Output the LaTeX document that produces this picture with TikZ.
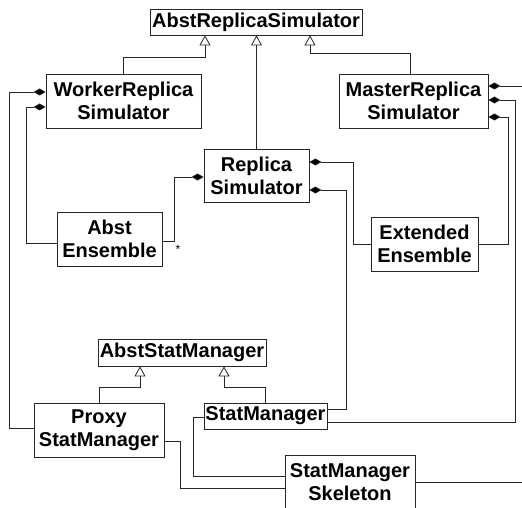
\documentclass[tikz,border=0pt]{standalone}
\usepackage{fontspec}
\setmainfont{Liberation Sans}
\usetikzlibrary{arrows.meta,calc}
\begin{document}
\begin{tikzpicture}[x=1pt,y=-1pt,
  cls/.style={draw=black!85, line width=0.8pt, fill=white, inner sep=0pt, align=center,
     font=\bfseries\fontsize{20}{23}\selectfont},
  inh/.style={draw=black!85, line width=0.8pt, -{Triangle[open, length=10pt, width=11pt, fill=white]}},
  comp/.style={draw=black!85, line width=0.8pt, {Diamond[length=12pt, width=7pt, fill=black]}-}]
\useasboundingbox (0,0) rectangle (522,508);
\clip (0,0) rectangle (522,508);

\node[cls, minimum width=212pt, minimum height=26pt] (ars) at (256,22) {AbstReplicaSimulator};
\node[cls, minimum width=155pt, minimum height=54pt] (wrs) at (123.5,101) {WorkerReplica\\Simulator};
\node[cls, minimum width=149pt, minimum height=54pt] (mrs) at (413.5,101) {MasterReplica\\Simulator};
\node[cls, minimum width=105pt, minimum height=53pt] (rs) at (256.5,175.5) {Replica\\Simulator};
\node[cls, minimum width=105pt, minimum height=54pt] (ae) at (109.5,239) {Abst\\Ensemble};
\node[cls, minimum width=107pt, minimum height=54pt] (ee) at (424.5,244) {Extended\\Ensemble};
\node[cls, minimum width=168pt, minimum height=27pt] (asm) at (182,352.5) {AbstStatManager};
\node[cls, minimum width=130pt, minimum height=54pt] (psm) at (99,430) {Proxy\\StatManager};
\node[cls, minimum width=123pt, minimum height=26pt] (sm) at (265.5,416) {StatManager};
\node[cls, minimum width=130pt, minimum height=54pt] (sms) at (350,482) {StatManager\\Skeleton};

% inheritance
\draw[inh] (wrs.north) |- (205,57) -- (ars.south -| 205,57);
\draw[inh] (rs.north) -- (ars.south -| rs.north);
\draw[inh] ([xshift=-3.5pt]mrs.north) |- (310,53) -- (ars.south -| 310,53);
\draw[inh] (psm.north) |- (140,387) -- (asm.south -| 140,387);
\draw[inh] (sm.north) |- (224,387) -- (asm.south -| 224,387);

% compositions
\coordinate (e1) at (522,86);
\coordinate (e2) at (522,482);
\draw[comp] ([yshift=9pt]wrs.west) -| (9,428) -- ([yshift=2pt]psm.west);
\draw[comp] ([yshift=-6pt]wrs.west) -| (26,243) -- ([yshift=-4pt]ae.west);
\draw[comp] ([yshift=-1.5pt]rs.west) -| (174,241) -- ([yshift=-2pt]ae.east);
\draw[comp] ([yshift=13.5pt]rs.east) -| (353,244) -- (ee.west);
\draw[comp] ([yshift=-14.5pt]rs.east) -| (346,409) -- ([yshift=7pt]sm.east);
\draw[comp] ([yshift=15pt]mrs.east) -- (e1);
\draw[comp] ([yshift=1pt]mrs.east) -| (515,422) -- ([yshift=-6pt]sm.east);
\draw[comp] ([yshift=-16pt]mrs.east) -| (508,244) -- (ee.east);

% plain associations
\draw[draw=black!85, line width=0.8pt] ([yshift=-11pt]psm.east) -| (180,488) -- ([yshift=-6pt]sms.west);
\draw[draw=black!85, line width=0.8pt] ([yshift=-1pt]sm.west) -| (193,476) -- ([yshift=6pt]sms.west);
\draw[draw=black!85, line width=0.8pt] (sms.east) -- (e2);

\node[font=\fontsize{12}{12}\selectfont, inner sep=0pt] (star) at (178,249) {*};
\end{tikzpicture}
\end{document}
